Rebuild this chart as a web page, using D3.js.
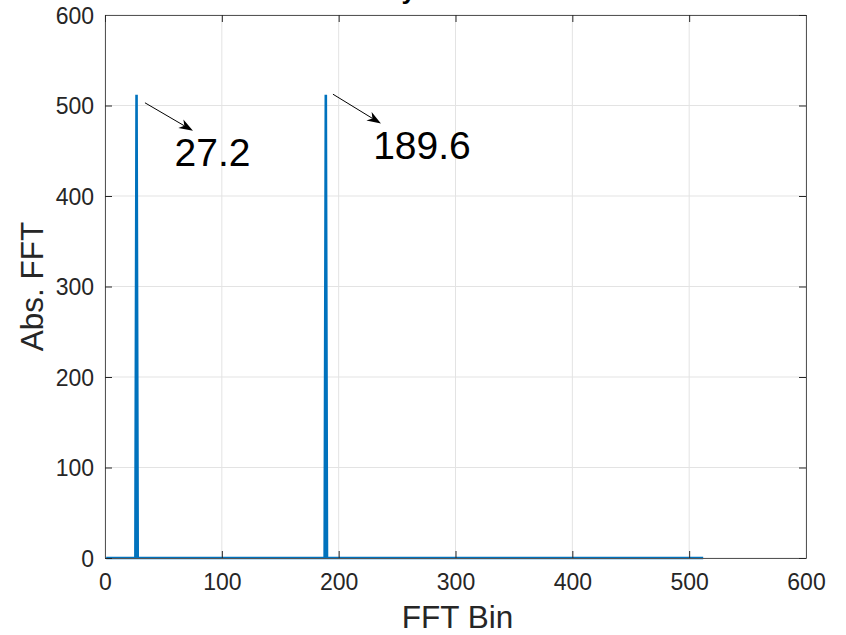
<!DOCTYPE html>
<html>
<head>
<meta charset="utf-8">
<script src="https://cdn.jsdelivr.net/npm/d3@7"></script>
<style>
  html, body { margin: 0; padding: 0; background: #fff; }
  svg { display: block; font-family: "Liberation Sans", Arial, Helvetica, sans-serif; }
</style>
</head>
<body>
<svg id="chart" width="846" height="635"></svg>
<script>
// ---- data ----
const titleText = "Analysis of Tones";
const xLabel = "FFT Bin";
const yLabel = "Abs. FFT";
const xTicks = [0, 100, 200, 300, 400, 500, 600];
const yTicks = [0, 100, 200, 300, 400, 500, 600];
// spectrum points (bin, |FFT|) — zero everywhere except two peaks
const specBins   = [1, 26, 27, 28, 188, 189, 190, 512];
const specValues = [0,  0, 512, 0,   0, 512,   0,   0];
// annotations: arrow start/end (data coords), label position and text
const annText   = ["27.2", "189.6"];
const annFromX  = [34.2, 195.1];
const annFromY  = [503, 512.5];
const annToX    = [75.3, 236.2];
const annToY    = [472, 480];
const annLabelX = [59.5, 229.5];
const annLabelY = [433.5, 440.5];

// ---- layout ----
const svg = d3.select("#chart");
const L = 105, R = 806, T = 15, B = 558;
const x = d3.scaleLinear().domain([0, 600]).range([L, R]);
const y = d3.scaleLinear().domain([0, 600]).range([B, T]);
const axisColor = "#262626";

// grid
const g = svg.append("g");
g.selectAll("line.gx").data(xTicks).join("line")
  .attr("x1", d => x(d)).attr("x2", d => x(d)).attr("y1", T).attr("y2", B)
  .attr("stroke", "#e3e3e3").attr("stroke-width", 1);
g.selectAll("line.gy").data(yTicks).join("line")
  .attr("y1", d => y(d)).attr("y2", d => y(d)).attr("x1", L).attr("x2", R)
  .attr("stroke", "#e3e3e3").attr("stroke-width", 1);

// data line
const pts = specBins.map((b, i) => [b, specValues[i]]);
svg.append("path")
  .datum(pts)
  .attr("fill", "none")
  .attr("stroke", "#0072BD")
  .attr("stroke-width", 2.6)
  .attr("stroke-linejoin", "miter")
  .attr("d", d3.line().x(d => x(d[0])).y(d => y(d[1])));

// axes (ticks inward)
const tl = 7;
const axB = d3.axisBottom(x).tickValues(xTicks).tickSize(-tl).tickPadding(tl + 10);
const axL = d3.axisLeft(y).tickValues(yTicks).tickSize(-tl).tickPadding(tl + 10);
const axT = d3.axisTop(x).tickValues(xTicks).tickSize(-tl).tickFormat("");
const axR = d3.axisRight(y).tickValues(yTicks).tickSize(-tl).tickFormat("");

function styleAxis(sel) {
  sel.select(".domain").attr("stroke", "#555").attr("stroke-width", 1);
  sel.selectAll(".tick line").attr("stroke", axisColor).attr("stroke-width", 1);
  sel.selectAll("text").attr("fill", axisColor).style("font-size", "23px")
     .style("font-family", "'Liberation Sans', Arial, sans-serif");
}
const gb = svg.append("g").attr("transform", `translate(0,${B})`).call(axB.tickSizeOuter(0));
styleAxis(gb);
gb.selectAll("text").attr("dy", null).attr("y", 32);
const gl = svg.append("g").attr("transform", `translate(${L},0)`).call(axL.tickSizeOuter(0));
styleAxis(gl);
gl.selectAll("text").attr("x", -11).attr("dy", "0.36em");
const gt = svg.append("g").attr("transform", `translate(0,${T})`).call(axT.tickSizeOuter(0));
styleAxis(gt);
const gr = svg.append("g").attr("transform", `translate(${R},0)`).call(axR.tickSizeOuter(0));
styleAxis(gr);

// axis labels
svg.append("text").attr("x", x(300) + 2).attr("y", 628)
  .attr("text-anchor", "middle").attr("fill", axisColor)
  .style("font-size", "31.5px").text(xLabel);
svg.append("text").attr("transform", `translate(43,${(T + B) / 2}) rotate(-90)`)
  .attr("text-anchor", "middle").attr("fill", axisColor)
  .style("font-size", "31.5px").text(yLabel);

// title (clipped at top, as in the reference)
svg.append("text").attr("x", (L + R) / 2).attr("y", -1.5)
  .attr("text-anchor", "middle").attr("fill", "#000")
  .style("font-size", "26px").style("font-weight", "bold").text(titleText);

// annotations
annText.forEach((t, i) => {
  const x0 = x(annFromX[i]), y0 = y(annFromY[i]);
  const x1 = x(annToX[i]), y1 = y(annToY[i]);
  const ang = Math.atan2(y1 - y0, x1 - x0);
  const hl = 14, hw = 5, back = 4;
  const ux = Math.cos(ang), uy = Math.sin(ang);
  const px = -uy, py = ux;
  const bx = x1 - ux * hl, by = y1 - uy * hl;
  const mx = x1 - ux * (hl - back), my = y1 - uy * (hl - back);
  svg.append("line").attr("x1", x0).attr("y1", y0).attr("x2", mx).attr("y2", my)
    .attr("stroke", "#000").attr("stroke-width", 1);
  svg.append("path")
    .attr("d", `M${x1},${y1} L${bx + px * hw},${by + py * hw} L${mx},${my} L${bx - px * hw},${by - py * hw} Z`)
    .attr("fill", "#000");
  svg.append("text").attr("x", x(annLabelX[i])).attr("y", y(annLabelY[i]))
    .attr("fill", "#000").style("font-size", "39px").text(t);
});
</script>
</body>
</html>
